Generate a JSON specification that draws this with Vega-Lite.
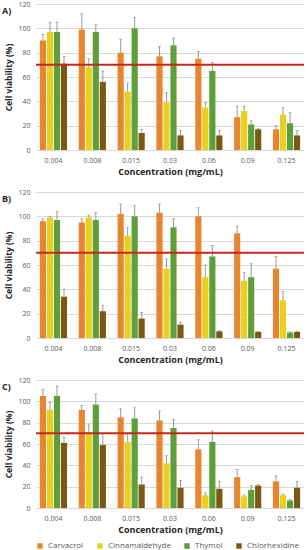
{
  "$schema": "https://vega.github.io/schema/vega-lite/v6.json",
  "padding": {"left": 2, "top": 0, "right": 2, "bottom": 1},
  "config": {
    "view": {"stroke": null},
    "font": "Open Sans",
    "concat": {"spacing": 12},
    "axisY": {"domain": false, "ticks": false, "gridColor": "#d9d9d9", "labelColor": "#595959", "labelFontSize": 7, "titleFontSize": 8.5, "titleFontWeight": "bold", "titleColor": "#262626", "labelPadding": 6, "titlePadding": 4, "values": [0, 20, 40, 60, 80, 100, 120]},
    "axisX": {"domainColor": "#d9d9d9", "ticks": false, "labelAngle": 0, "labelColor": "#595959", "labelFontSize": 7, "titleFontSize": 9, "titleFontWeight": "bold", "titleColor": "#262626", "labelPadding": 6, "titlePadding": 4, "grid": false},
    "title": {"fontSize": 9, "fontWeight": "bold", "color": "#262626", "anchor": "start", "frame": "group", "dx": -34, "offset": -16},
    "legend": {"labelFontSize": 8, "labelColor": "#595959", "symbolType": "square", "symbolSize": 30, "columnPadding": 12, "symbolStrokeWidth": 0, "offset": 8},
    "tick": {"thickness": 0.8}
  },
  "datasets": {
    "A": [
      {"c": "0.004", "s": "Carvacrol", "v": 90, "hi": 95}, {"c": "0.004", "s": "Cinnamaldehyde", "v": 97, "hi": 105}, {"c": "0.004", "s": "Thymol", "v": 97, "hi": 105}, {"c": "0.004", "s": "Chlorhexidine", "v": 71, "hi": 77},
      {"c": "0.008", "s": "Carvacrol", "v": 99, "hi": 112}, {"c": "0.008", "s": "Cinnamaldehyde", "v": 68, "hi": 75}, {"c": "0.008", "s": "Thymol", "v": 97, "hi": 103}, {"c": "0.008", "s": "Chlorhexidine", "v": 56, "hi": 65},
      {"c": "0.015", "s": "Carvacrol", "v": 80, "hi": 91}, {"c": "0.015", "s": "Cinnamaldehyde", "v": 48, "hi": 55}, {"c": "0.015", "s": "Thymol", "v": 100, "hi": 109}, {"c": "0.015", "s": "Chlorhexidine", "v": 14, "hi": 17},
      {"c": "0.03", "s": "Carvacrol", "v": 77, "hi": 85}, {"c": "0.03", "s": "Cinnamaldehyde", "v": 39, "hi": 47}, {"c": "0.03", "s": "Thymol", "v": 86, "hi": 92}, {"c": "0.03", "s": "Chlorhexidine", "v": 12, "hi": 16},
      {"c": "0.06", "s": "Carvacrol", "v": 75, "hi": 81}, {"c": "0.06", "s": "Cinnamaldehyde", "v": 35, "hi": 39}, {"c": "0.06", "s": "Thymol", "v": 65, "hi": 72}, {"c": "0.06", "s": "Chlorhexidine", "v": 12, "hi": 16},
      {"c": "0.09", "s": "Carvacrol", "v": 27, "hi": 36}, {"c": "0.09", "s": "Cinnamaldehyde", "v": 32, "hi": 36}, {"c": "0.09", "s": "Thymol", "v": 21, "hi": 24}, {"c": "0.09", "s": "Chlorhexidine", "v": 17, "hi": 17.5},
      {"c": "0.125", "s": "Carvacrol", "v": 17, "hi": 20}, {"c": "0.125", "s": "Cinnamaldehyde", "v": 29, "hi": 35}, {"c": "0.125", "s": "Thymol", "v": 22, "hi": 31}, {"c": "0.125", "s": "Chlorhexidine", "v": 12, "hi": 16}
    ],
    "B": [
      {"c": "0.004", "s": "Carvacrol", "v": 96, "hi": 98}, {"c": "0.004", "s": "Cinnamaldehyde", "v": 99, "hi": 100}, {"c": "0.004", "s": "Thymol", "v": 97, "hi": 104}, {"c": "0.004", "s": "Chlorhexidine", "v": 34, "hi": 40},
      {"c": "0.008", "s": "Carvacrol", "v": 95, "hi": 98}, {"c": "0.008", "s": "Cinnamaldehyde", "v": 99, "hi": 101}, {"c": "0.008", "s": "Thymol", "v": 97, "hi": 103}, {"c": "0.008", "s": "Chlorhexidine", "v": 22, "hi": 27},
      {"c": "0.015", "s": "Carvacrol", "v": 102, "hi": 110}, {"c": "0.015", "s": "Cinnamaldehyde", "v": 84, "hi": 91}, {"c": "0.015", "s": "Thymol", "v": 100, "hi": 109}, {"c": "0.015", "s": "Chlorhexidine", "v": 16, "hi": 21},
      {"c": "0.03", "s": "Carvacrol", "v": 103, "hi": 110}, {"c": "0.03", "s": "Cinnamaldehyde", "v": 57, "hi": 65}, {"c": "0.03", "s": "Thymol", "v": 91, "hi": 98}, {"c": "0.03", "s": "Chlorhexidine", "v": 11, "hi": 13},
      {"c": "0.06", "s": "Carvacrol", "v": 100, "hi": 107}, {"c": "0.06", "s": "Cinnamaldehyde", "v": 50, "hi": 60}, {"c": "0.06", "s": "Thymol", "v": 67, "hi": 76}, {"c": "0.06", "s": "Chlorhexidine", "v": 5.5, "hi": 6},
      {"c": "0.09", "s": "Carvacrol", "v": 86, "hi": 92}, {"c": "0.09", "s": "Cinnamaldehyde", "v": 47, "hi": 54}, {"c": "0.09", "s": "Thymol", "v": 50, "hi": 61}, {"c": "0.09", "s": "Chlorhexidine", "v": 5, "hi": 5.5},
      {"c": "0.125", "s": "Carvacrol", "v": 57, "hi": 67}, {"c": "0.125", "s": "Cinnamaldehyde", "v": 31, "hi": 38}, {"c": "0.125", "s": "Thymol", "v": 4.5, "hi": 5}, {"c": "0.125", "s": "Chlorhexidine", "v": 5, "hi": 5.5}
    ],
    "C": [
      {"c": "0.004", "s": "Carvacrol", "v": 105, "hi": 111}, {"c": "0.004", "s": "Cinnamaldehyde", "v": 92, "hi": 99}, {"c": "0.004", "s": "Thymol", "v": 105, "hi": 114}, {"c": "0.004", "s": "Chlorhexidine", "v": 61, "hi": 66},
      {"c": "0.008", "s": "Carvacrol", "v": 92, "hi": 96}, {"c": "0.008", "s": "Cinnamaldehyde", "v": 71, "hi": 78}, {"c": "0.008", "s": "Thymol", "v": 97, "hi": 107}, {"c": "0.008", "s": "Chlorhexidine", "v": 59, "hi": 70},
      {"c": "0.015", "s": "Carvacrol", "v": 85, "hi": 93}, {"c": "0.015", "s": "Cinnamaldehyde", "v": 62, "hi": 70}, {"c": "0.015", "s": "Thymol", "v": 84, "hi": 94}, {"c": "0.015", "s": "Chlorhexidine", "v": 22, "hi": 29},
      {"c": "0.03", "s": "Carvacrol", "v": 82, "hi": 91}, {"c": "0.03", "s": "Cinnamaldehyde", "v": 42, "hi": 49}, {"c": "0.03", "s": "Thymol", "v": 75, "hi": 83}, {"c": "0.03", "s": "Chlorhexidine", "v": 19, "hi": 26},
      {"c": "0.06", "s": "Carvacrol", "v": 55, "hi": 64}, {"c": "0.06", "s": "Cinnamaldehyde", "v": 12, "hi": 14}, {"c": "0.06", "s": "Thymol", "v": 62, "hi": 72}, {"c": "0.06", "s": "Chlorhexidine", "v": 18, "hi": 25},
      {"c": "0.09", "s": "Carvacrol", "v": 29, "hi": 36}, {"c": "0.09", "s": "Cinnamaldehyde", "v": 11, "hi": 12}, {"c": "0.09", "s": "Thymol", "v": 17, "hi": 21}, {"c": "0.09", "s": "Chlorhexidine", "v": 21, "hi": 22},
      {"c": "0.125", "s": "Carvacrol", "v": 25, "hi": 30}, {"c": "0.125", "s": "Cinnamaldehyde", "v": 12, "hi": 13}, {"c": "0.125", "s": "Thymol", "v": 7, "hi": 8}, {"c": "0.125", "s": "Chlorhexidine", "v": 19, "hi": 25}
    ]
  },
  "vconcat": [
    {
      "title": "A)",
      "width": 268, "height": 146,
      "data": {"name": "A"},
      "layer": [
        {"mark": {"type": "bar"},
         "encoding": {
           "x": {"field": "c", "type": "ordinal", "sort": ["0.004","0.008","0.015","0.03","0.06","0.09","0.125"], "scale": {"paddingInner": 0.3, "paddingOuter": 0.1}, "title": "Concentration (mg/mL)"},
           "xOffset": {"field": "s", "sort": ["Carvacrol","Cinnamaldehyde","Thymol","Chlorhexidine"], "scale": {"paddingInner": 0.12}},
           "y": {"field": "v", "type": "quantitative", "scale": {"domain": [0, 120]}, "title": "Cell viability (%)"},
           "color": {"field": "s", "type": "nominal", "title": null, "sort": ["Carvacrol","Cinnamaldehyde","Thymol","Chlorhexidine"], "scale": {"domain": ["Carvacrol","Cinnamaldehyde","Thymol","Chlorhexidine"], "range": ["#E8852F","#E9D01F","#5F9F3B","#7A5A12"]}, "legend": {"orient": "bottom", "direction": "horizontal"}}
         }},
        {"mark": {"type": "rule", "color": "#808080", "strokeWidth": 0.8},
         "encoding": {
           "x": {"field": "c", "type": "ordinal", "sort": ["0.004","0.008","0.015","0.03","0.06","0.09","0.125"]},
           "xOffset": {"field": "s", "sort": ["Carvacrol","Cinnamaldehyde","Thymol","Chlorhexidine"]},
           "y": {"field": "v", "type": "quantitative"}, "y2": {"field": "hi"}
         }},
        {"mark": {"type": "tick", "color": "#808080", "size": 3},
         "encoding": {
           "x": {"field": "c", "type": "ordinal", "sort": ["0.004","0.008","0.015","0.03","0.06","0.09","0.125"]},
           "xOffset": {"field": "s", "sort": ["Carvacrol","Cinnamaldehyde","Thymol","Chlorhexidine"]},
           "y": {"field": "hi", "type": "quantitative"}
         }},
        {"data": {"values": [{"ref": 70}]},
         "mark": {"type": "rule", "color": "#C3281C", "strokeWidth": 2},
         "encoding": {"y": {"field": "ref", "type": "quantitative"}}}
      ]
    },
    {
      "title": "B)",
      "width": 268, "height": 146,
      "data": {"name": "B"},
      "layer": [
        {"mark": {"type": "bar"},
         "encoding": {
           "x": {"field": "c", "type": "ordinal", "sort": ["0.004","0.008","0.015","0.03","0.06","0.09","0.125"], "scale": {"paddingInner": 0.3, "paddingOuter": 0.1}, "title": "Concentration (mg/mL)"},
           "xOffset": {"field": "s", "sort": ["Carvacrol","Cinnamaldehyde","Thymol","Chlorhexidine"], "scale": {"paddingInner": 0.12}},
           "y": {"field": "v", "type": "quantitative", "scale": {"domain": [0, 120]}, "title": "Cell viability (%)"},
           "color": {"field": "s", "type": "nominal", "title": null, "sort": ["Carvacrol","Cinnamaldehyde","Thymol","Chlorhexidine"]}
         }},
        {"mark": {"type": "rule", "color": "#808080", "strokeWidth": 0.8},
         "encoding": {
           "x": {"field": "c", "type": "ordinal", "sort": ["0.004","0.008","0.015","0.03","0.06","0.09","0.125"]},
           "xOffset": {"field": "s", "sort": ["Carvacrol","Cinnamaldehyde","Thymol","Chlorhexidine"]},
           "y": {"field": "v", "type": "quantitative"}, "y2": {"field": "hi"}
         }},
        {"mark": {"type": "tick", "color": "#808080", "size": 3},
         "encoding": {
           "x": {"field": "c", "type": "ordinal", "sort": ["0.004","0.008","0.015","0.03","0.06","0.09","0.125"]},
           "xOffset": {"field": "s", "sort": ["Carvacrol","Cinnamaldehyde","Thymol","Chlorhexidine"]},
           "y": {"field": "hi", "type": "quantitative"}
         }},
        {"data": {"values": [{"ref": 70}]},
         "mark": {"type": "rule", "color": "#C3281C", "strokeWidth": 2},
         "encoding": {"y": {"field": "ref", "type": "quantitative"}}}
      ]
    },
    {
      "title": "C)",
      "width": 268, "height": 128,
      "data": {"name": "C"},
      "layer": [
        {"mark": {"type": "bar"},
         "encoding": {
           "x": {"field": "c", "type": "ordinal", "sort": ["0.004","0.008","0.015","0.03","0.06","0.09","0.125"], "scale": {"paddingInner": 0.3, "paddingOuter": 0.1}, "title": "Concentration (mg/mL)"},
           "xOffset": {"field": "s", "sort": ["Carvacrol","Cinnamaldehyde","Thymol","Chlorhexidine"], "scale": {"paddingInner": 0.12}},
           "y": {"field": "v", "type": "quantitative", "scale": {"domain": [0, 120]}, "title": "Cell viability (%)"},
           "color": {"field": "s", "type": "nominal", "title": null, "sort": ["Carvacrol","Cinnamaldehyde","Thymol","Chlorhexidine"]}
         }},
        {"mark": {"type": "rule", "color": "#808080", "strokeWidth": 0.8},
         "encoding": {
           "x": {"field": "c", "type": "ordinal", "sort": ["0.004","0.008","0.015","0.03","0.06","0.09","0.125"]},
           "xOffset": {"field": "s", "sort": ["Carvacrol","Cinnamaldehyde","Thymol","Chlorhexidine"]},
           "y": {"field": "v", "type": "quantitative"}, "y2": {"field": "hi"}
         }},
        {"mark": {"type": "tick", "color": "#808080", "size": 3},
         "encoding": {
           "x": {"field": "c", "type": "ordinal", "sort": ["0.004","0.008","0.015","0.03","0.06","0.09","0.125"]},
           "xOffset": {"field": "s", "sort": ["Carvacrol","Cinnamaldehyde","Thymol","Chlorhexidine"]},
           "y": {"field": "hi", "type": "quantitative"}
         }},
        {"data": {"values": [{"ref": 70}]},
         "mark": {"type": "rule", "color": "#C3281C", "strokeWidth": 2},
         "encoding": {"y": {"field": "ref", "type": "quantitative"}}}
      ]
    }
  ]
}
